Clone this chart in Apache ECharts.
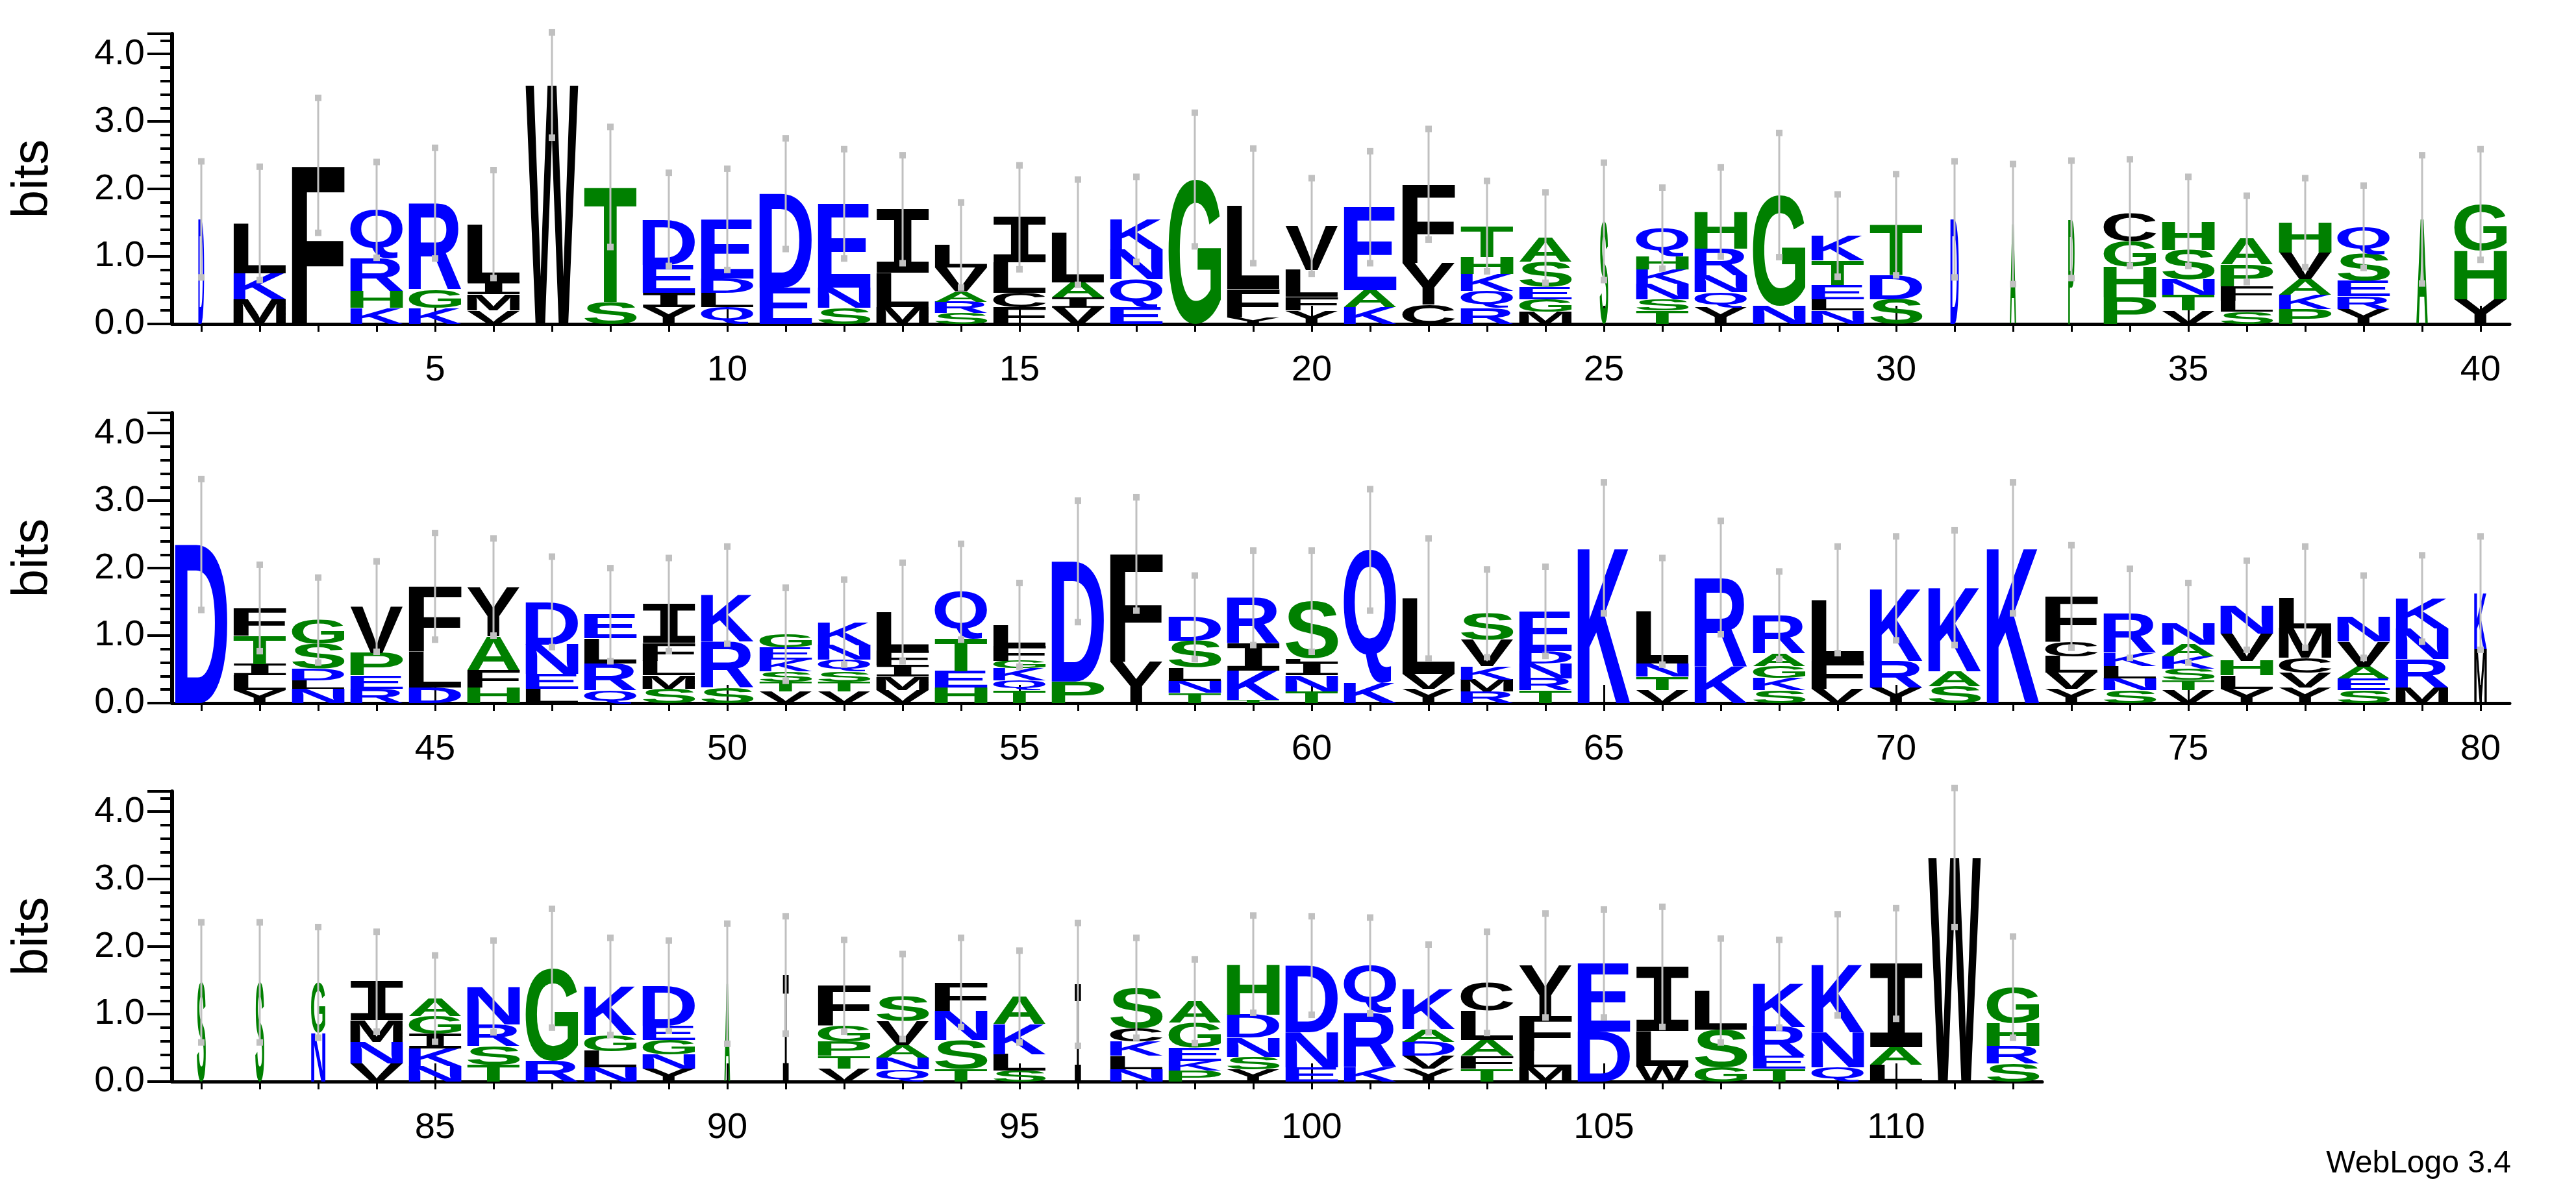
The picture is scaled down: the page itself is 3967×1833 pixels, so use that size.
<!DOCTYPE html>
<html><head><meta charset="utf-8">
<script src="https://cdn.jsdelivr.net/npm/echarts@6/dist/echarts.min.js"></script>
<style>html,body{margin:0;padding:0;background:#fff}#c{width:3967px;height:1833px}</style>
</head><body><div id="c"></div>
<script>
// Stacks bottom -> top: letter followed by height in bits
const row1Stacks = [
 "D1.55","M.37 K.38 L.74","F2.35","K.24 H.25 R.48 Q.72","K.24 G.27 R1.28","V.2 M.24 I.19 L.85","W3.54","S.33 T1.7",
 "Y.25 I.21 E.42 D.67","Q.25 L.21 D.21 E.88","E.54 D1.39","S.24 N.3 E1.24","M.25 L.51 I.94","S.16 R.17 A.15 V.36 L.33","F.25 C.21 L.45 I.67","V.24 I.15 A.23 L.74",
 "E.25 Q.41 N.45 K.44","G2.14","Y.1 F.42 L1.23","Y.2 F.2 L.4 V.65","K.25 A.25 E1.23","C.29 Y.61 F1.17","R.24 Q.25 K.25 H.25 T.46","M.18 G.19 E.18 S.37 A.36",
 "S1.52","T.2 S.17 N.23 K.21 H.2 Q.41","Y.24 Q.23 N.25 R.4 H.54","N.27 G1.64","N.2 L.17 E.21 T.36 K.37","S.37 D.36 T.74","D1.55","A1.48",
 "P1.55","P.39 H.46 G.38 C.42","V.2 T.23 N.23 S.44 H.42","S.18 L.17 F.21 P.32 A.38","P.22 K.21 A.23 V.4 H.44","Y.22 R.19 E.23 S.4 Q.4","A1.55","Y.37 H.72 G.68"];
const row2Stacks = [
 "D2.35","Y.19 L.22 I.17 T.42 F.41","N.21 L.13 D.17 S.37 G.35","R.21 E.2 P.33 V.69","D.23 L.53 F.97","H.23 F.26 A.5 Y.73","L.21 E.22 N.44 D.63","Q.19 R.4 L.37 E.35",
 "S.21 M.2 L.22 F.26 I.57","S.23 R.68 K.69","V.17 T.15 S.15 K.17 E.18 G.2","V.17 T.15 S.15 Q.17 N.22 K.34","V.19 M.2 I.17 F.22 L.57","H.23 E.24 T.48 Q.7","T.19 Q.15 K.18 G.11 F.22 L.31","P.32 D1.78",
 "Y.61 F1.6","T.15 N.18 L.2 S.39 D.35","T.05 K.43 I.4 R.68","T.17 N.24 I.2 L.05 S.85","K.3 Q1.97","Y.21 V.22 L1.12","R.17 M.18 K.2 V.39 S.39","T.19 R.18 N.22 D.18 E.59",
 "K2.3","V.19 T.2 N.2 L.77","K.54 R1.32","S.19 K.18 G.18 A.19 R.56","V.21 F.42 L.9","Y.23 R.4 K1.07","S.25 A.22 K1.24","K2.3",
 "Y.21 V.24 L.24 C.22 F.67","S.19 N.18 L.18 K.2 R.58","V.19 T.15 S.17 K.18 A.18 N.32","Y.21 L.2 H.22 V.4 N.42","Y.23 V.22 C.22 M.44 L.46","S.19 E.17 A.18 V.37 N.37","M.23 R.42 N.46 K.44","M.8 K.83"];
const row3Stacks = [
 "S1.47","S1.47","N.72 G.75","V.27 N.32 M.32 I.57","N.23 K.26 I.22 G.26 A.26","T.25 S.28 R.32 N.56","R.31 G1.37","N.21 L.24 G.24 K.72",
 "Y.19 N.21 G.22 E.21 D.59","A1.45","I1.58","V.19 T.19 P.21 G.24 F.59","Q.18 N.17 A.19 V.36 S.36","T.19 S.43 N.43 F.42","S.16 L.24 K.45 A.41","I1.44",
 "N.18 L.2 K.21 C.2 S.6","P.16 K.15 E.19 G.37 A.32","Y.18 S.19 N.28 D.34 H.75","E.21 N.52 D.99","K.21 R.81 Q.7","Y.19 V.19 D.21 A.19 K.6","T.19 F.19 A.24 L.43 C.42","M.21 L.24 F.52 Y.75",
 "D.74 E1.01","W.23 L.52 I.95","G.21 S.56 L.58","T.19 E.19 R.43 K.64","Q.21 N.52 K1.0","L.25 A.26 I1.24","W3.32","S.27 R.26 H.34 G.53"];
// upper end of each error bar (bits); bars are symmetric about the stack top
const row1ErrTop = [2.41,2.33,3.35,2.4,2.61,2.28,4.32,2.92,2.24,2.3,2.75,2.59,2.5,1.8,2.35,2.14,2.18,3.13,2.6,2.16,2.56,2.89,2.12,1.95,2.39,2.02,2.32,2.83,1.92,2.22,2.41,2.37,2.42,2.44,2.18,1.9,2.16,2.05,2.5,2.59];
const row2ErrTop = [3.32,2.05,1.86,2.1,2.52,2.44,2.17,2.0,2.15,2.32,1.71,1.83,2.08,2.36,1.78,3.0,3.05,1.89,2.26,2.26,3.17,2.44,1.98,2.02,3.27,2.15,2.7,1.95,2.32,2.47,2.56,3.27,2.34,1.99,1.78,2.11,2.32,1.89,2.19,2.47];
const row3ErrTop = [2.36,2.36,2.29,2.22,1.87,2.09,2.56,2.13,2.09,2.34,2.45,2.1,1.89,2.13,1.94,2.35,2.13,1.81,2.46,2.45,2.43,2.03,2.22,2.49,2.55,2.59,2.12,2.1,2.48,2.57,4.35,2.15];
// relative stack widths for low-occupancy columns
const narrowColumns = {1:.11,25:.16,31:.16,32:.12,33:.12,39:.22,80:.24,81:.17,82:.17,83:.27,90:.11,91:.11,96:.12};
const rowStarts = [1,41,81];
const colorGroups = {blue:"DEKNQR", green:"AGHPST", black:"CFILMVWY"};
const colorValues = {blue:"#0000ff", green:"#008000", black:"#000000"};

const FONT = 'bold 200px "Liberation Sans", Arial, sans-serif';
const FONT_I = 'bold 200px "DejaVu Sans Mono", monospace';
const cv = document.createElement('canvas'); const ctx = cv.getContext('2d');
ctx.textBaseline = 'middle'; ctx.textAlign='left';
const metrics = {};
function fontOf(ch){ return ch==='I'?FONT_I:FONT; }
function met(ch){ if(!metrics[ch]){ctx.font=fontOf(ch); const m=ctx.measureText(ch); metrics[ch]={l:m.actualBoundingBoxLeft,r:m.actualBoundingBoxRight,a:m.actualBoundingBoxAscent,d:m.actualBoundingBoxDescent};} return metrics[ch]; }
function colorOf(ch){ for(const k in colorGroups) if(colorGroups[k].includes(ch)) return colorValues[k]; return '#000'; }

const stacksAll=[row1Stacks,row2Stacks,row3Stacks], errAll=[row1ErrTop,row2ErrTop,row3ErrTop];
const gridTops=[52,636,1219], gridH=447, left=265, slot=90;
const chart = echarts.init(document.getElementById('c'), null, {renderer:'canvas'});
const grids=[], xAxes=[], yAxes=[], series=[];
stacksAll.forEach((stacks,r)=>{
  const n=stacks.length, start=rowStarts[r];
  const cats=stacks.map((_,i)=>String(start+i));
  grids.push({left:left, top:gridTops[r], width:n*slot, height:gridH});
  const base={type:'category', gridIndex:r, data:cats, boundaryGap:true,
    axisLine:{show:true,onZero:false,lineStyle:{color:'#000',width:5}}};
  xAxes.push(Object.assign({},base,{
    axisTick:{show:true,alignWithLabel:true,interval:0,length:12,lineStyle:{color:'#000',width:3}},
    axisLabel:{show:true,interval:(i,v)=>(+v)%5===0,margin:44,fontSize:56,color:'#000',fontFamily:'Liberation Sans'}}));
  xAxes.push(Object.assign({},base,{axisLine:{show:false},
    axisTick:{show:true,alignWithLabel:true,interval:(i,v)=>(+v)%5===0,length:28,lineStyle:{color:'#000',width:3}},
    axisLabel:{show:false}}));
  yAxes.push({type:'value', gridIndex:r, min:0, max:4.3, interval:1, name:'bits', nameLocation:'middle', nameGap:175,
    nameTextStyle:{fontSize:78,color:'#000',fontFamily:'Liberation Sans'},
    axisLine:{show:true,lineStyle:{color:'#000',width:6}},
    axisTick:{show:true,length:38,lineStyle:{color:'#000',width:4}},
    minorTick:{show:true,splitNumber:5,length:18,lineStyle:{color:'#000',width:4}},
    splitLine:{show:false},
    axisLabel:{showMaxLabel:false,formatter:v=>v.toFixed(1),fontSize:56,color:'#000',margin:42,fontFamily:'Liberation Sans'}});
  const items=[], letters=[], bars=[];
  stacks.forEach((s,i)=>{
    let y=0; const w=narrowColumns[start+i]||1;
    s.split(' ').forEach(tok=>{const ch=tok[0], h=parseFloat(tok.slice(1)); items.push([i,y,y+h,w]); letters.push(ch); y+=h;});
    const top=errAll[r][i]; bars.push([i, 2*y-top, top]);
  });
  series.push({type:'custom', xAxisIndex:2*r, yAxisIndex:r, data:items, z:2, silent:true,
    renderItem:(p,api)=>{
      const ch=letters[p.dataIndex], m=met(ch);
      const c=api.value(0), bw=api.size([1,0])[0]*0.9*api.value(3);
      const pt=api.coord([c,api.value(2)]), pb=api.coord([c,api.value(1)]);
      const rh=pb[1]-pt[1]; if(rh<=0.5) return null;
      const sx=bw/(m.l+m.r), sy=rh/(m.a+m.d);
      return {type:'text', x:pt[0]-bw/2+m.l*sx, y:pt[1]+m.a*sy, scaleX:sx, scaleY:sy,
        style:{text:ch, font:fontOf(ch), fill:colorOf(ch), align:'left', verticalAlign:'middle'}};
    }});
  series.push({type:'custom', xAxisIndex:2*r, yAxisIndex:r, data:bars, z:5, silent:true,
    renderItem:(p,api)=>{
      const c=api.value(0), a=api.coord([c,api.value(1)]), b=api.coord([c,api.value(2)]);
      const st={fill:'#c0c0c0'};
      return {type:'group', children:[
        {type:'line', shape:{x1:a[0],y1:a[1],x2:b[0],y2:b[1]}, style:{stroke:'#c0c0c0',lineWidth:3}},
        {type:'rect', shape:{x:a[0]-5,y:a[1]-5,width:10,height:10}, style:st},
        {type:'rect', shape:{x:b[0]-5,y:b[1]-5,width:10,height:10}, style:st}]};
    }});
});
chart.setOption({animation:false, backgroundColor:'#fff', grid:grids, xAxis:xAxes, yAxis:yAxes, series:series,
  graphic:[{type:'text', right:100, bottom:16, style:{text:'WebLogo 3.4', font:'48px "Liberation Sans"', fill:'#000'}}]});
</script></body></html>
